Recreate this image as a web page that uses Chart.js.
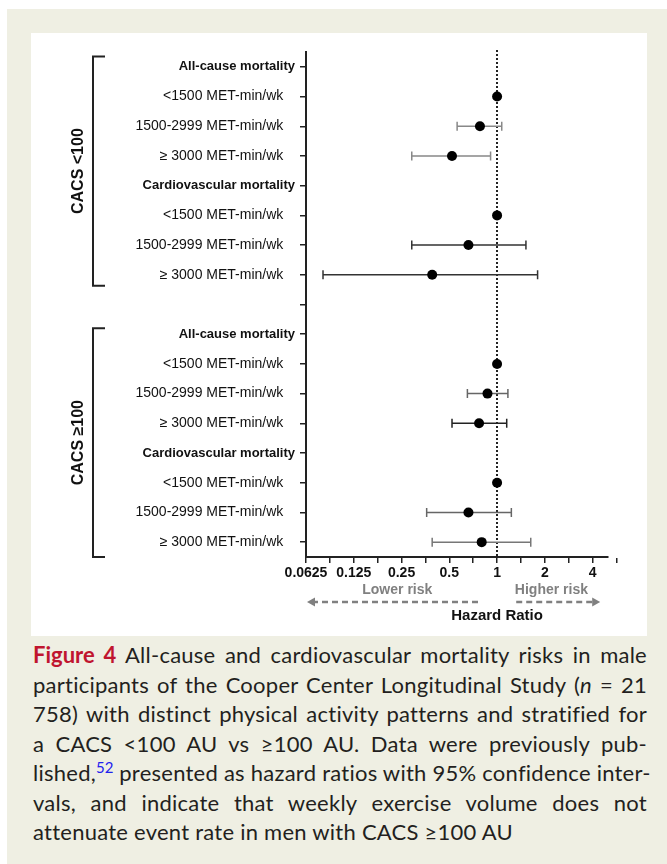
<!DOCTYPE html>
<html>
<head>
<meta charset="utf-8">
<script src="https://cdn.jsdelivr.net/npm/chart.js@4/dist/chart.umd.min.js"></script>
<style>
  body { margin: 0; background: #fff; }
  #frame { position: absolute; left: 7px; top: 9px; width: 660px; height: 855px; background: #efefe3; }
  #panel { position: absolute; left: 31px; top: 33px; width: 616px; height: 603px; background: #fff; }
  #panel canvas { position: absolute; left: 0; top: 0; }
  #caption { position: absolute; left: 33px; top: 640px; width: 614px; font-family: Lato, sans-serif; font-size: 22px; letter-spacing: 0.25px; line-height: 29.5px; color: #231f20; }
  #caption div { white-space: nowrap; text-align: justify; text-align-last: justify; }
  #caption div.last { text-align-last: left; }
  .fig { color: #c0152f; font-weight: bold; letter-spacing: 0; }
  sup { color: #2222ee; font-size: 15px; line-height: 0; letter-spacing: 0; }
</style>
</head>
<body>
<div id="frame"></div>
<div id="panel"><canvas id="forest" width="616" height="603"></canvas></div>
<div id="caption">
  <div><span class="fig">Figure 4</span> All-cause and cardiovascular mortality risks in male</div>
  <div>participants of the Cooper Center Longitudinal Study (<i>n</i> = 21</div>
  <div>758) with distinct physical activity patterns and stratified for</div>
  <div>a CACS &lt;100 AU vs ≥100 AU. Data were previously pub-</div>
  <div>lished,<sup>52</sup> presented as hazard ratios with 95% confidence inter-</div>
  <div>vals, and indicate that weekly exercise volume does not</div>
  <div class="last">attenuate event rate in men with CACS ≥100 AU</div>
</div>
<script>
// rows top to bottom, '' is the gap between the two CACS groups
var rows = [
  'All-cause mortality', '<1500 MET-min/wk', '1500-2999 MET-min/wk', '≥ 3000 MET-min/wk',
  'Cardiovascular mortality', '<1500 MET-min/wk', '1500-2999 MET-min/wk', '≥ 3000 MET-min/wk',
  '',
  'All-cause mortality', '<1500 MET-min/wk', '1500-2999 MET-min/wk', '≥ 3000 MET-min/wk',
  'Cardiovascular mortality', '<1500 MET-min/wk', '1500-2999 MET-min/wk', '≥ 3000 MET-min/wk'
];
var hazardRatio = [null, 1, 0.78, 0.52, null, 1, 0.66, 0.39, null, null, 1, 0.87, 0.77, null, 1, 0.66, 0.80];
var ciLower     = [null, null, 0.56, 0.29, null, null, 0.29, 0.08, null, null, null, 0.65, 0.52, null, null, 0.36, 0.39];
var ciUpper     = [null, null, 1.07, 0.91, null, null, 1.52, 1.80, null, null, null, 1.17, 1.15, null, null, 1.23, 1.63];
var groups = [
  { label: 'CACS <100', first: 0, last: 7 },
  { label: 'CACS ≥100', first: 9, last: 16 }
];
var xTicks = [0.0625, 0.125, 0.25, 0.5, 1, 2, 4];
var xMin = 0.0625, xMax = 5;

var barColors = ['#888', '#888', '#888', '#888', '#888', '#888', '#333', '#333', '#888', '#888', '#888', '#666', '#222', '#888', '#888', '#666', '#777'];
var labelFont = 'Liberation Sans, Arial, sans-serif';

function isHeader(i) {
  return rows[i] !== '' && hazardRatio[i] == null;
}

// one entry per row so the data index matches the category index
var points = rows.map(function(r, i) {
  return { x: hazardRatio[i], y: i };
});

// minor ticks sit halfway between the doublings
var allTicks = [];
for (var i = 0; i < xTicks.length; i++) {
  allTicks.push(xTicks[i]);
  allTicks.push(xTicks[i] * Math.SQRT2);
}

var errorBars = {
  id: 'errorBars',
  beforeDatasetsDraw: function(chart) {
    var ctx = chart.ctx, xs = chart.scales.x, ys = chart.scales.y, area = chart.chartArea;
    ctx.save();
    // reference line at HR = 1
    ctx.strokeStyle = '#222';
    ctx.lineWidth = 2;
    ctx.setLineDash([2, 2]);
    var x1 = Math.round(xs.getPixelForValue(1));
    ctx.beginPath();
    ctx.moveTo(x1, area.top - 2);
    ctx.lineTo(x1, area.bottom);
    ctx.stroke();
    ctx.setLineDash([]);
    ctx.lineWidth = 1.5;
    for (var i = 0; i < rows.length; i++) {
      if (ciLower[i] == null) continue;
      var y = ys.getPixelForValue(i);
      var a = xs.getPixelForValue(ciLower[i]);
      var b = xs.getPixelForValue(ciUpper[i]);
      ctx.strokeStyle = barColors[i];
      ctx.beginPath();
      ctx.moveTo(a, y); ctx.lineTo(b, y);
      ctx.moveTo(a, y - 4.5); ctx.lineTo(a, y + 4.5);
      ctx.moveTo(b, y - 4.5); ctx.lineTo(b, y + 4.5);
      ctx.stroke();
    }
    ctx.restore();
  }
};

function arrowHead(ctx, x, y, dir) {
  ctx.beginPath();
  ctx.moveTo(x, y);
  ctx.lineTo(x - dir * 8, y - 4.5);
  ctx.lineTo(x - dir * 8, y + 4.5);
  ctx.closePath();
  ctx.fill();
}

var decorations = {
  id: 'decorations',
  afterDraw: function(chart) {
    var ctx = chart.ctx, xs = chart.scales.x, ys = chart.scales.y, area = chart.chartArea;
    var step = ys.getPixelForValue(1) - ys.getPixelForValue(0);
    ctx.save();

    // group brackets and rotated labels
    ctx.strokeStyle = '#222';
    ctx.lineWidth = 2;
    groups.forEach(function(g, k) {
      var top = ys.getPixelForValue(g.first) - (k === 0 ? 0.35 : 0.2) * step;
      var bottom = ys.getPixelForValue(g.last) + (k === 0 ? 0.37 : 0.5) * step;
      ctx.beginPath();
      ctx.moveTo(74, top); ctx.lineTo(62, top);
      ctx.lineTo(62, bottom); ctx.lineTo(74, bottom);
      ctx.stroke();
      ctx.save();
      ctx.translate(48, (top + bottom) / 2);
      ctx.rotate(-Math.PI / 2);
      ctx.fillStyle = '#111';
      ctx.font = 'bold 16px ' + labelFont;
      ctx.textAlign = 'center';
      ctx.textBaseline = 'middle';
      ctx.fillText(g.label, 0, 0);
      ctx.restore();
    });

    // risk direction labels and arrows under the axis
    var yText = area.bottom + 33, yArrow = area.bottom + 45;
    ctx.fillStyle = '#808080';
    ctx.font = 'bold 14px ' + labelFont;
    ctx.textAlign = 'center';
    ctx.textBaseline = 'middle';
    ctx.fillText('Lower risk', xs.getPixelForValue(0.235), yText);
    ctx.fillText('Higher risk', xs.getPixelForValue(2.2), yText);

    ctx.strokeStyle = '#808080';
    ctx.lineWidth = 2.5;
    ctx.setLineDash([6, 4]);
    var l0 = xs.getPixelForValue(0.0625) + 6, l1 = xs.getPixelForValue(0.76);
    var r0 = xs.getPixelForValue(1.32), r1 = xs.getPixelForValue(4.4) - 4;
    ctx.beginPath();
    ctx.moveTo(l0, yArrow); ctx.lineTo(l1, yArrow);
    ctx.moveTo(r0, yArrow); ctx.lineTo(r1, yArrow);
    ctx.stroke();
    ctx.setLineDash([]);
    arrowHead(ctx, l0 - 5, yArrow, -1);
    arrowHead(ctx, r1 + 5, yArrow, 1);

    ctx.fillStyle = '#111';
    ctx.font = 'bold 15px ' + labelFont;
    ctx.fillText('Hazard Ratio', xs.getPixelForValue(1), area.bottom + 59);
    ctx.restore();
  }
};

new Chart(document.getElementById('forest'), {
  type: 'scatter',
  data: {
    datasets: [{
      data: points,
      pointRadius: 5,
      pointHoverRadius: 5,
      backgroundColor: '#000',
      borderWidth: 0
    }]
  },
  options: {
    responsive: false,
    animation: false,
    events: [],
    layout: { padding: { top: 19, right: 39, bottom: 59, left: 0 } },
    plugins: { legend: { display: false }, tooltip: { enabled: false } },
    scales: {
      x: {
        type: 'logarithmic',
        min: xMin,
        max: xMax,
        afterBuildTicks: function(s) {
          s.ticks = allTicks.map(function(v) { return { value: v }; });
        },
        afterFit: function(s) { s.height = 20; },
        border: { display: true, color: '#222', width: 2 },
        grid: { drawOnChartArea: false, drawTicks: true, tickLength: 6, color: '#222', lineWidth: 1.5 },
        ticks: {
          autoSkip: false,
          maxRotation: 0,
          padding: 2,
          color: '#111',
          font: { family: labelFont, size: 14, weight: 'bold' },
          callback: function(v) { return xTicks.indexOf(v) >= 0 ? String(v) : ''; }
        }
      },
      y: {
        type: 'category',
        labels: rows,
        offset: true,
        afterFit: function(s) { s.width = 275; },
        border: { display: true, color: '#222', width: 2 },
        grid: { drawOnChartArea: false, drawTicks: true, tickLength: 6, color: '#222', lineWidth: 1.5 },
        ticks: {
          autoSkip: false,
          padding: 5,
          color: '#111',
          font: function(c) {
            return isHeader(c.index)
              ? { family: labelFont, size: 13, weight: 'bold' }
              : { family: labelFont, size: 14, weight: 'normal' };
          },
          callback: function(v, i) { return isHeader(i) ? rows[i] : rows[i] + '   '; }
        }
      }
    }
  },
  plugins: [errorBars, decorations]
});
</script>
</body>
</html>
